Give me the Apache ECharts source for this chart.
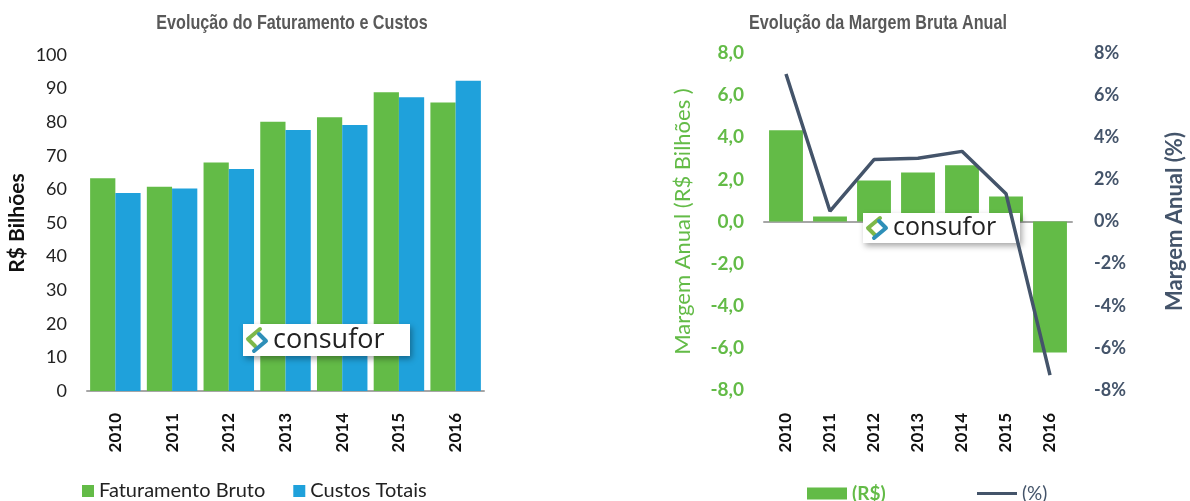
<!DOCTYPE html>
<html>
<head>
<meta charset="utf-8">
<script src="https://cdn.jsdelivr.net/npm/echarts@6/dist/echarts.min.js"></script>
<style>
  html, body { margin: 0; padding: 0; background: #fff; }
  #main { width: 1190px; height: 501px; }
</style>
</head>
<body>
<div id="main"></div>
<script>
// dados
const anos = ['2010', '2011', '2012', '2013', '2014', '2015', '2016'];
const faturamento = [63.3, 60.8, 68.0, 80.1, 81.5, 88.9, 85.9];
const custos = [58.9, 60.3, 66.1, 77.7, 79.2, 87.4, 92.3];
const margemRS = [4.33, 0.24, 1.95, 2.33, 2.67, 1.19, -6.22];
const margemPct = [7.0, 0.49, 2.94, 3.0, 3.33, 1.32, -7.29];

const verde = '#63BB47';
const azul = '#1FA1DB';
const ardosia = '#44546A';
const fonte = 'Lato, "Open Sans", sans-serif';

const chart = echarts.init(document.getElementById('main'));

// logo consufor (caixa branca com sombra)
function logo(x, y, w, h, fs) {
    return {
        type: 'group', x: x, y: y,
        children: [
            { type: 'rect', z: 100, shape: { x: 0, y: 0, width: w, height: h },
              style: { fill: '#fff', shadowBlur: 6, shadowColor: 'rgba(0,0,0,0.35)', shadowOffsetX: 2, shadowOffsetY: 3 } },
            { type: 'polyline', z: 101, shape: { points: [[17, 5], [5, 15], [12, 22]] },
              style: { stroke: '#7DB84A', lineWidth: 4, fill: null, lineCap: 'round', lineJoin: 'round' } },
            { type: 'polyline', z: 101, shape: { points: [[11, h - 5], [23, h - 15], [16, h - 22]] },
              style: { stroke: '#2E8FB8', lineWidth: 4, fill: null, lineCap: 'round', lineJoin: 'round' } },
            { type: 'text', z: 101, x: 30, y: h / 2,
              style: { text: 'consufor', fill: '#222', font: fs + 'px "Open Sans", sans-serif', verticalAlign: 'middle', textAlign: 'left' } }
        ]
    };
}

// título estreito (sem fonte condensada instalada)
function titulo(txt, cx) {
    return { type: 'text', x: cx, y: 23, scaleX: 0.77, z: 100,
             style: { text: txt, fill: '#595959', font: 'bold 21px "Liberation Sans", Arial, sans-serif',
                      textAlign: 'center', verticalAlign: 'middle' } };
}

const fmtRS = v => v.toFixed(1).replace('.', ',');
const rotulo = { rotate: 90, fontFamily: fonte, fontWeight: 'bold', fontSize: 17, color: '#111' };

const option = {
    animation: false,
    legend: [
        { data: ['Faturamento Bruto', 'Custos Totais'], left: 77, top: 476, itemWidth: 12, itemHeight: 12,
          itemGap: 28, icon: 'rect', textStyle: { fontFamily: fonte, fontSize: 20, color: '#222' } },
        { data: ['(R$)'], left: 802, top: 479, itemWidth: 40, itemHeight: 12, icon: 'rect',
          textStyle: { fontFamily: fonte, fontSize: 19, color: verde, fontWeight: 'bold' } },
        { data: ['(%)'], left: 972, top: 479, itemWidth: 40, itemHeight: 3, icon: 'rect',
          itemStyle: { color: ardosia },
          textStyle: { fontFamily: fonte, fontSize: 19, color: ardosia } }
    ],
    grid: [
        { left: 87, top: 55, width: 397, height: 336, outerBoundsMode: 'none' },
        { left: 764, top: 53, width: 308, height: 337, outerBoundsMode: 'none' }
    ],
    xAxis: [
        { type: 'category', gridIndex: 0, data: anos,
          axisLine: { lineStyle: { color: '#A6A6A6', width: 2 } },
          axisTick: { length: 7, lineStyle: { color: '#A6A6A6', width: 2 } },
          axisLabel: Object.assign({ margin: 22 }, rotulo) },
        { type: 'category', gridIndex: 1, data: anos,
          axisLine: { onZero: true, lineStyle: { color: '#A6A6A6', width: 2 } },
          axisTick: { length: 7, lineStyle: { color: '#A6A6A6', width: 2 } },
          axisLabel: { show: false } },
        // rótulos no rodapé do gráfico da direita
        { type: 'category', gridIndex: 1, data: anos, position: 'bottom',
          axisLine: { show: false, onZero: false }, axisTick: { show: false },
          axisLabel: Object.assign({ margin: 23 }, rotulo) }
    ],
    yAxis: [
        { type: 'value', gridIndex: 0, min: 0, max: 100, interval: 10,
          name: 'R$ Bilhões', nameLocation: 'middle', nameGap: 59,
          nameTextStyle: { fontFamily: fonte, fontWeight: 'bold', fontSize: 21, color: '#111' },
          axisLine: { show: false }, axisTick: { show: false }, splitLine: { show: false },
          axisLabel: { margin: 20, fontFamily: fonte, fontSize: 18, color: '#222' } },
        { type: 'value', gridIndex: 1, min: -8, max: 8, interval: 2,
          name: 'Margem Anual (R$ Bilhões )', nameLocation: 'middle', nameGap: 70,
          nameTextStyle: { fontFamily: fonte, fontSize: 22, color: verde },
          axisLine: { show: false }, axisTick: { show: false }, splitLine: { show: false },
          axisLabel: { margin: 20, formatter: fmtRS, fontFamily: fonte, fontWeight: 'bold', fontSize: 19, color: verde } },
        { type: 'value', gridIndex: 1, position: 'right', min: -8, max: 8, interval: 2,
          name: 'Margem Anual (%)', nameLocation: 'middle', nameGap: 92,
          nameTextStyle: { fontFamily: fonte, fontWeight: 'bold', fontSize: 22, color: ardosia },
          axisLine: { show: false }, axisTick: { show: false }, splitLine: { show: false },
          axisLabel: { margin: 22, formatter: v => v + '%', fontFamily: fonte, fontWeight: 'bold', fontSize: 18, color: ardosia } }
    ],
    series: [
        { name: 'Faturamento Bruto', type: 'bar', xAxisIndex: 0, yAxisIndex: 0, data: faturamento,
          barGap: '0%', barCategoryGap: '11%', itemStyle: { color: verde } },
        { name: 'Custos Totais', type: 'bar', xAxisIndex: 0, yAxisIndex: 0, data: custos,
          barGap: '0%', barCategoryGap: '11%', itemStyle: { color: azul } },
        { name: '(R$)', type: 'bar', xAxisIndex: 1, yAxisIndex: 1, data: margemRS,
          barCategoryGap: '23%', itemStyle: { color: verde } },
        { name: '(%)', type: 'line', xAxisIndex: 1, yAxisIndex: 2, data: margemPct, z: 110,
          symbol: 'none', lineStyle: { color: ardosia, width: 3.5 }, itemStyle: { color: ardosia } }
    ],
    graphic: [
        titulo('Evolução do Faturamento e Custos', 292),
        titulo('Evolução da Margem Bruta Anual', 878),
        logo(243, 324, 167, 32, 27),
        logo(863, 213, 157, 30, 25)
    ]
};

chart.setOption(option);
</script>
</body>
</html>
